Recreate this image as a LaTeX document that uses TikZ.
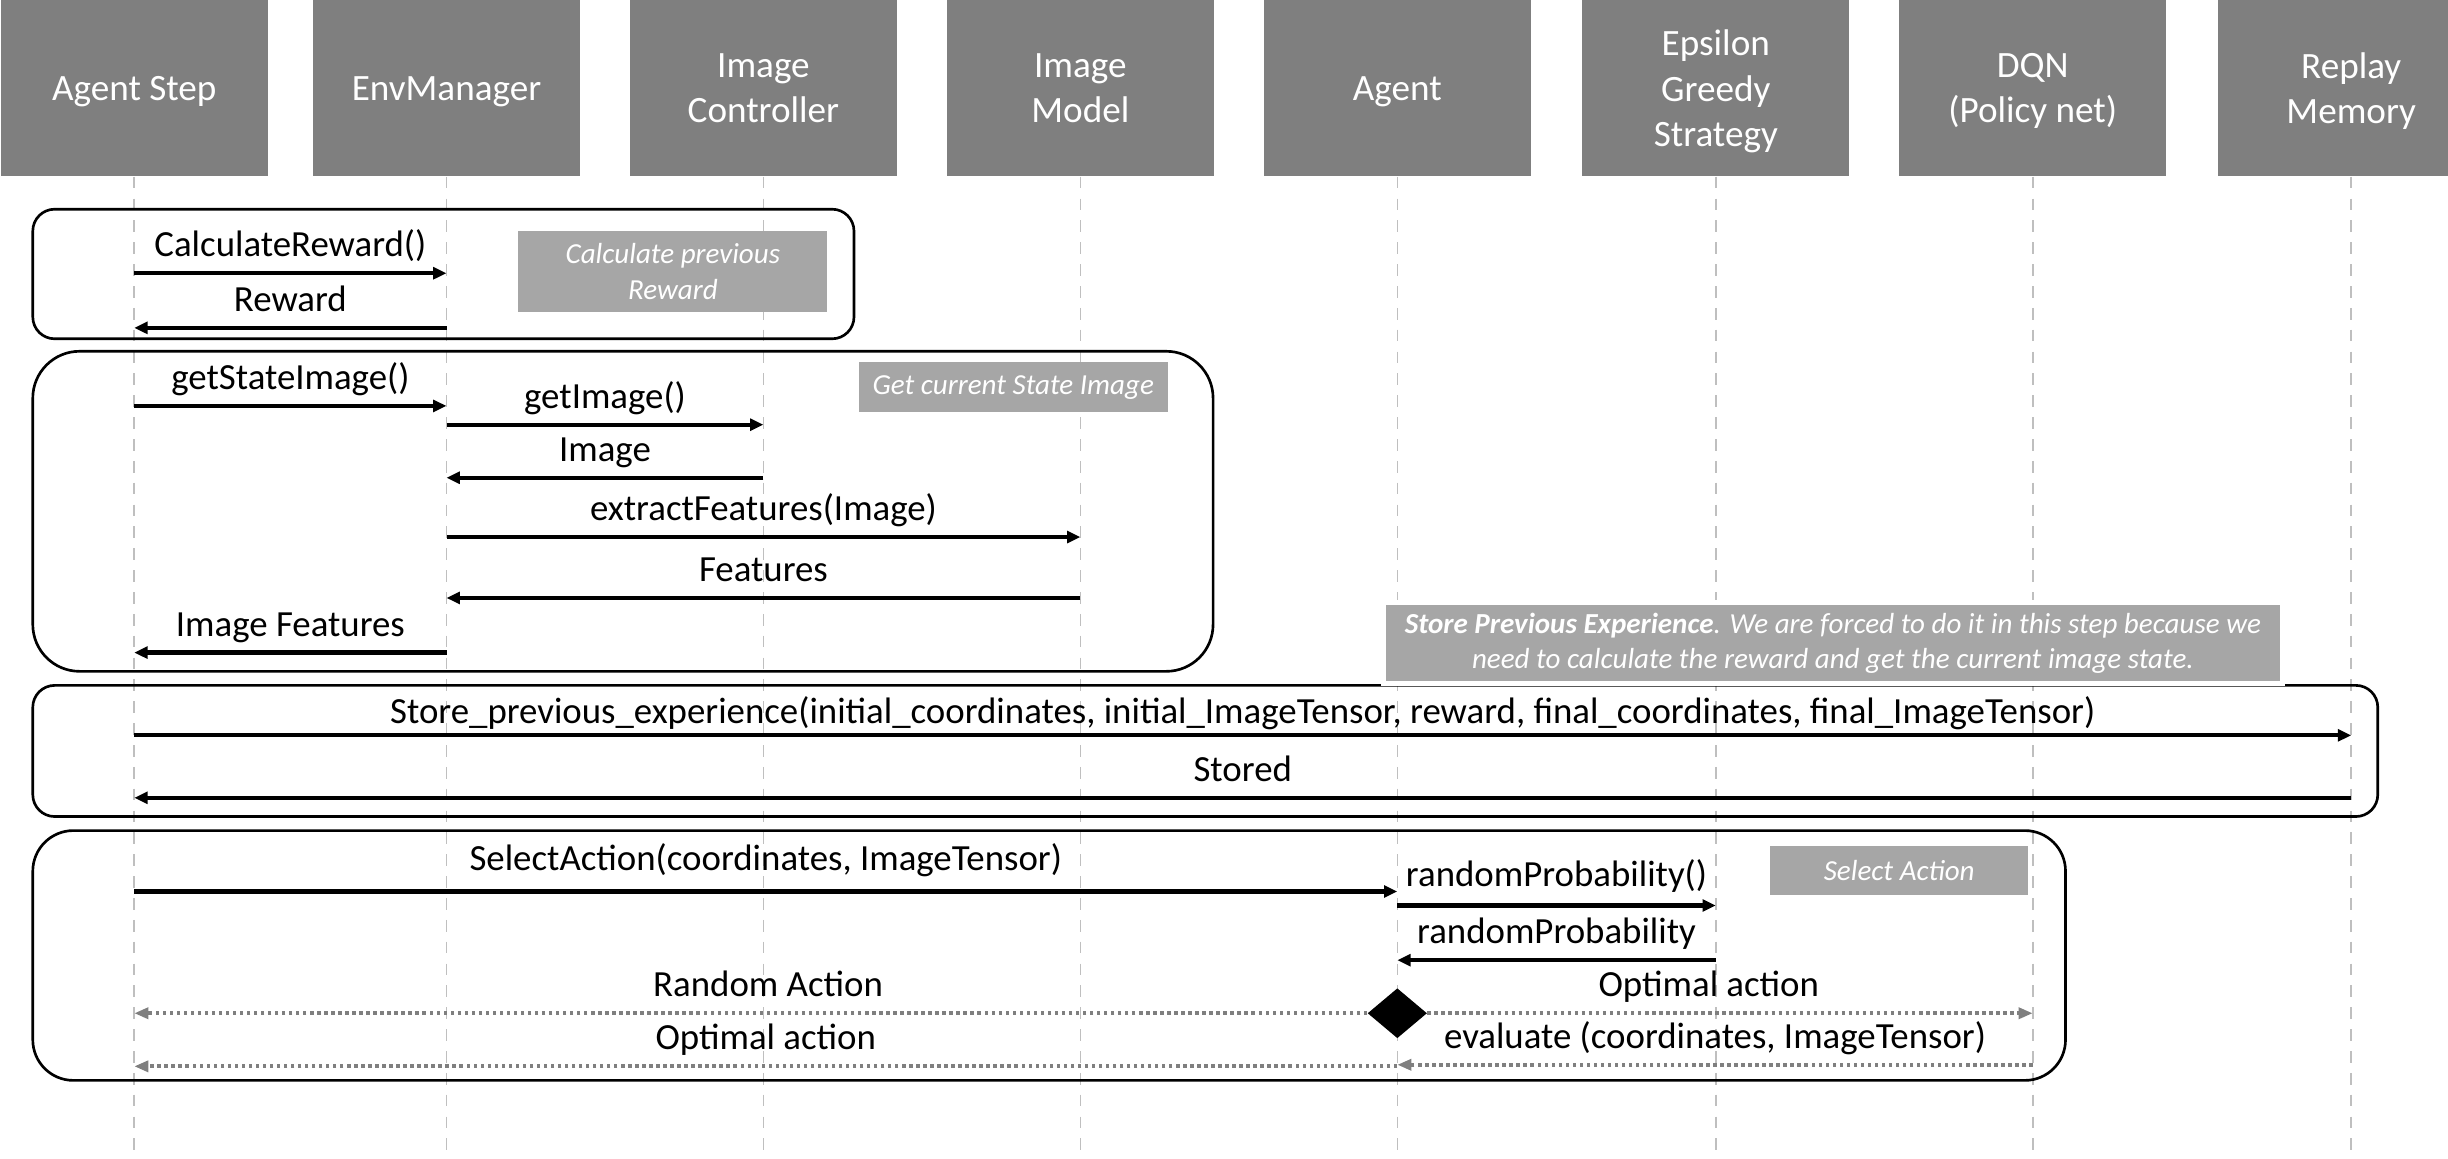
\documentclass[tikz,border=0pt]{standalone}
\usepackage{fontspec}
\setmainfont{Carlito}
\usepackage{tikz}
\usetikzlibrary{arrows.meta,shapes.geometric}
\definecolor{headgray}{HTML}{7F7F7F}
\definecolor{notegray}{HTML}{A6A6A6}
\definecolor{linegray}{HTML}{BFBFBF}

\begin{document}
\begin{tikzpicture}
	[
		x=1pt, y=-1pt,
		head/.style={fill=headgray, text=white, minimum width=171pt, minimum height=113pt, inner sep=0pt, text depth=0pt, align=center, font=\fontsize{23.8}{29}\selectfont},
		lifeline/.style={draw=linegray, line width=1pt, dash pattern=on 7.5pt off 6.5pt},
		group/.style={draw=black, line width=1.7pt},
		note/.style={fill=notegray, text=white, align=center, inner sep=0pt, font=\fontsize{18.6}{22.7}\selectfont\itshape},
		msg/.style={line width=2.7pt, -{Triangle[length=8.5pt,width=7.5pt]}},
		reply/.style={draw=headgray, line width=2.4pt, dash pattern=on 2.2pt off 2.3pt, -{Triangle[length=9pt,width=7pt]}},
		lbl/.style={midway, anchor=base, yshift=10.5pt, inner sep=0pt, text=black, font=\fontsize{23.6}{28}\selectfont}
	]
	\clip (0,0) rectangle (1568,742);

	% lifeline heads
	\foreach \n/\x/\t in {as/86/{Agent Step}, em/286/EnvManager, ic/489/{Image\\Controller}, im/692/{Image\\Model}, ag/895/Agent, eg/1099/{Epsilon\\Greedy\\Strategy}, dqn/1302/{DQN\\(Policy net)}, rm/1506/{Replay\\Memory}}
		\node(\n) [head] at (\x,56.5) {\t};
	\foreach \n in {as,em,ic,im,ag,eg,dqn,rm}
		\draw[lifeline] (\n.south) -- (\n.south |- 0,742);

	% groups
	\draw[group, rounded corners=14pt] (21,134) rectangle (547,217);
	\draw[group, rounded corners=30pt] (21,225) rectangle (777,430);
	\draw[group, rounded corners=14pt] (21,439) rectangle (1523,523);
	\draw[group, rounded corners=26pt] (21,532) rectangle (1323,692);

	% notes
	\node(n1) [note, minimum width=198pt, minimum height=52pt] at (431,174) {Calculate previous\\Reward};
	\node(n2) [note, minimum width=198pt, minimum height=32pt] at (649,248) {Get current State Image};
	\node(n3) [note, draw=white, line width=3pt, minimum width=576pt, minimum height=52pt] at (1174,412)
		{\textbf{Store Previous Experience}. We are forced to do it in this step because we\\need to calculate the reward and get the current image state.};
	\node(n4) [note, minimum width=165pt, minimum height=31pt] at (1216.5,557.5) {Select Action};

	% calculate reward
	\draw[msg] (as |- 0,175) -- node[lbl]{CalculateReward()} (em |- 0,175);
	\draw[msg] (em |- 0,210) -- node[lbl]{Reward} (as |- 0,210);
	% state image
	\draw[msg] (as |- 0,260) -- node[lbl]{getStateImage()} (em |- 0,260);
	\draw[msg] (em |- 0,272) -- node[lbl]{getImage()} (ic |- 0,272);
	\draw[msg] (ic |- 0,306) -- node[lbl]{Image} (em |- 0,306);
	\draw[msg] (em |- 0,344) -- node[lbl]{extractFeatures(Image)} (im |- 0,344);
	\draw[msg] (im |- 0,383) -- node[lbl]{Features} (em |- 0,383);
	\draw[msg] (em |- 0,418) -- node[lbl]{Image Features} (as |- 0,418);
	% experience
	\draw[msg] (as |- 0,471) -- node[lbl, yshift=-3pt]{Store\_previous\_experience(initial\_coordinates, initial\_ImageTensor, reward, final\_coordinates, final\_ImageTensor)} (rm |- 0,471);
	\draw[msg] (rm |- 0,511) -- node[lbl]{Stored} (as |- 0,511);
	% select action
	\draw[msg] (as |- 0,571) -- node[lbl, yshift=3pt]{SelectAction(coordinates, ImageTensor)} (ag |- 0,571);
	\draw[msg] (ag |- 0,580) -- node[lbl, yshift=2pt]{randomProbability()} (eg |- 0,580);
	\draw[msg] (eg |- 0,615) -- node[lbl]{randomProbability} (ag |- 0,615);
	\node(dec) [diamond, fill=black, minimum width=38pt, minimum height=32pt, inner sep=0pt] at (895,649) {};
	\draw[reply] (dec.west) -- node[lbl, pos=0.486]{Random Action} (as |- dec);
	\draw[reply] (dec.east) -- node[lbl, pos=0.465]{Optimal action} (dqn |- dec);
	\draw[reply] (ag |- 0,683) -- node[lbl]{Optimal action} (as |- 0,683);
	\draw[reply] (dqn |- 0,682) -- node[lbl]{evaluate (coordinates, ImageTensor)} (ag |- 0,682);
\end{tikzpicture}
\end{document}
